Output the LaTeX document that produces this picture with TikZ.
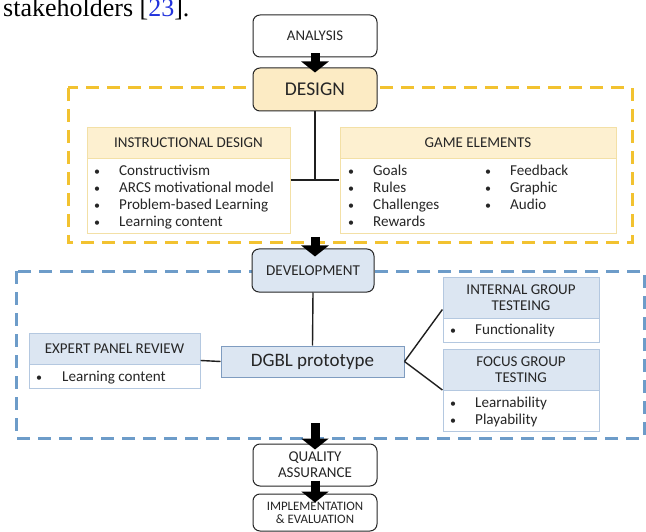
\documentclass[tikz,border=0pt]{standalone}
\usepackage{fontspec}
\setmainfont{Carlito}
\newfontfamily\capfont{Liberation Serif}
\usetikzlibrary{arrows.meta,fit,calc}
\definecolor{ink}{HTML}{262626}
\definecolor{gold}{HTML}{F2C230}
\definecolor{dashblue}{HTML}{6D9CC9}
\definecolor{yfill}{HTML}{FCEBC4}
\definecolor{yhead}{HTML}{FDF0D0}
\definecolor{yedge}{HTML}{F3E0A6}
\definecolor{bfill}{HTML}{DCE6F2}
\definecolor{bedge}{HTML}{B4C8E0}
\definecolor{bdark}{HTML}{7F9CC0}
\definecolor{refblue}{HTML}{2233DD}
\tikzset{
  stage/.style={draw=ink, line width=1pt, rounded corners=7pt, fill=white,
    minimum width=124pt, minimum height=42pt, inner sep=0pt, align=center,
    text=ink, font=\fontsize{14.8}{16}\selectfont},
  yhd/.style={draw=yedge, line width=0.8pt, fill=yhead, inner sep=0pt, align=center,
    text=ink, font=\fontsize{15}{17}\selectfont},
  ybd/.style={draw=yedge, line width=0.8pt, fill=white, inner sep=0pt},
  bhd/.style={draw=bedge, line width=0.8pt, fill=bfill, inner sep=0pt, align=center,
    text=ink, font=\fontsize{15}{16.5}\selectfont},
  bbd/.style={draw=bedge, line width=0.8pt, fill=white, inner sep=0pt},
  frame/.style={inner sep=0pt},
  item/.style={anchor=base west, inner sep=0pt, text=ink, font=\fontsize{15.1}{17}\selectfont},
  bul/.style={anchor=base, inner sep=0pt, text=ink, font=\fontsize{12}{17}\selectfont},
  conn/.style={draw=black!88, line width=1.4pt},
  blockarrow/.style={draw=black, line width=9pt, -{Triangle[width=27pt,length=11pt]}},
  golddash/.style={draw=gold, line width=3pt, dash pattern=on 13pt off 8pt},
  bluedash/.style={draw=dashblue, line width=3pt, dash pattern=on 13pt off 8pt},
}
\begin{document}
\begin{tikzpicture}[x=1pt,y=-1pt]
\useasboundingbox (0,0) rectangle (646,532);
\clip (0,0) rectangle (646,532);
\fill[white] (0,0) rectangle (646,532);

% caption fragment
\node[anchor=base west, inner sep=0pt, font=\capfont\fontsize{26}{26}\selectfont]
  (cap) at (3,17) {stakeholders [\textcolor{refblue}{23}].};

% dashed group frames
\draw[golddash] (68,88) rectangle (632,243);
\draw[bluedash] (16,271) rectangle (644,438);

% main stages
\node[stage] (an) at (315,36) {ANALYSIS};
\node[stage, fill=yfill, minimum height=43pt, font=\fontsize{19.5}{21}\selectfont] (de) at (315,89.5) {DESIGN};
\node[stage, fill=bfill, minimum width=122pt, minimum height=43pt, font=\fontsize{15.1}{16}\selectfont] (dv) at (313,270.5) {DEVELOPMENT};
\node[draw=bdark, line width=1pt, fill=bfill, minimum width=183pt, minimum height=31pt, inner sep=0pt,
  text=ink, font=\fontsize{19}{20}\selectfont] (dg) at (312.5,361.5) {DGBL prototype};
\node[stage, font=\fontsize{15}{16}\selectfont] (qa) at (315,465) {QUALITY\\ASSURANCE};
\node[stage, minimum height=37pt, font=\fontsize{12.9}{13}\selectfont] (im) at (315,512.5) {IMPLEMENTATION\\\& EVALUATION};

% instructional design
\node[ybd, minimum width=203pt, minimum height=75pt] (idb) at (188.5,195.5) {};
\node[yhd, minimum width=203pt, minimum height=31pt] (idh) at (188.5,142.5) {INSTRUCTIONAL DESIGN};
\node[frame, fit=(idh)(idb)] (id) {};
\foreach \t [count=\i] in {Constructivism, ARCS motivational model, Problem-based Learning, Learning content}{
  \node[bul] (idp\i) at (97,{159+17*\i}) {•};
  \node[item] (idt\i) at (119,{159+17*\i}) {\t};
}

% game elements
\node[ybd, minimum width=276pt, minimum height=75pt] (geb) at (478,195.5) {};
\node[yhd, minimum width=276pt, minimum height=31pt] (geh) at (478,142.5) {GAME ELEMENTS};
\node[frame, fit=(geh)(geb)] (ge) {};
\foreach \t [count=\i] in {Goals, Rules, Challenges, Rewards}{
  \node[bul] (gep\i) at (351,{159+17*\i}) {•};
  \node[item] (get\i) at (373,{159+17*\i}) {\t};
}
\foreach \t [count=\i] in {Feedback, Graphic, Audio}{
  \node[bul] (geq\i) at (488,{159+17*\i}) {•};
  \node[item] (geu\i) at (510,{159+17*\i}) {\t};
}

% expert panel review
\node[bbd, minimum width=171pt, minimum height=24pt] (epb) at (114.5,376) {};
\node[bhd, minimum width=171pt, minimum height=31pt] (eph) at (114.5,348.5) {EXPERT PANEL REVIEW};
\node[frame, fit=(eph)(epb)] (ep) {};
\node[bul] (epp1) at (39,381.5) {•};
\node[item] (ept1) at (62,381.5) {Learning content};

% internal group testing
\node[bbd, minimum width=156pt, minimum height=24pt] (itb) at (521,330) {};
\node[bhd, minimum width=156pt, minimum height=41pt] (ith) at (521,297.5) {INTERNAL GROUP\\TESTEING};
\node[frame, fit=(ith)(itb)] (it) {};
\node[bul] (itp1) at (453,334.5) {•};
\node[item] (itt1) at (475,334.5) {Functionality};

% focus group testing
\node[bbd, minimum width=156pt, minimum height=41pt] (fob) at (521,410.5) {};
\node[bhd, minimum width=156pt, minimum height=41pt] (foh) at (521,369.5) {FOCUS GROUP\\TESTING};
\node[frame, fit=(foh)(fob)] (fo) {};
\foreach \t [count=\i] in {Learnability, Playability}{
  \node[bul] (fop\i) at (453,{390.5+17*\i}) {•};
  \node[item] (fot\i) at (475,{390.5+17*\i}) {\t};
}

% connectors
\draw[conn] (de.south) -- (de.south |- id.east);
\draw[conn] (id.east) -- (ge.west);
\draw[conn] (dv.south) -- (dg.north);
\draw[conn] (ep.east) -- (dg.west);
\draw[conn] (dg.east) -- (it.west);
\draw[conn] (dg.east) -- (fo.west);

% block arrows
\coordinate (yb) at (315,237);
\coordinate (bb) at (315,423);
\draw[blockarrow] ([yshift=4pt]an.south) -- ([yshift=-5pt]de.north);
\draw[blockarrow] (yb) -- ([yshift=-8pt]dv.north -| yb);
\draw[blockarrow] (bb) -- ([yshift=-6pt]qa.north);
\draw[blockarrow] ([yshift=6pt]qa.south) -- ([yshift=-9pt]im.north);
\end{tikzpicture}
\end{document}
